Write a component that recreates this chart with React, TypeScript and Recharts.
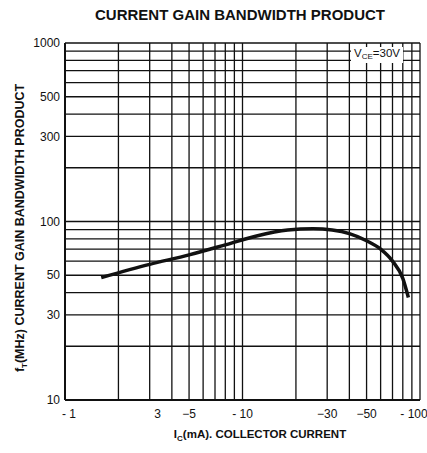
import React from "react";
import { LineChart, Line, XAxis, YAxis, CartesianGrid } from "recharts";

// collector current magnitude (mA) and fT (MHz)
const currentMa = [1.6, 3, 5, 8, 12, 18, 25, 32, 40, 50, 60, 70, 80, 86];
const ftMhz = [48.5, 57.5, 65, 74, 83, 89.5, 91, 89.5, 85.5, 78, 70, 60, 48, 37.5];

const xGridValues = [1, 2, 3, 4, 5, 6, 7, 8, 9, 10, 20, 30, 40, 50, 60, 70, 80, 90, 100];
const xTickLabels: Record<number, string> = {
  1: "- 1",
  3: "3",
  5: "\u22125",
  10: "- 10",
  30: "\u221230",
  50: "\u221250",
  100: "- 100",
};

const yGridValues = [10, 20, 30, 40, 50, 60, 70, 80, 90, 100, 200, 300, 400, 500, 600, 700, 800, 900, 1000];
const yTickLabels: Record<number, string> = {
  10: "10",
  30: "30",
  50: "50",
  100: "100",
  300: "300",
  500: "500",
  1000: "1000",
};

const data = currentMa.map((x, i) => ({ x, ft: ftMhz[i] }));

const font = "'Liberation Sans', Arial, Helvetica, sans-serif";
const ink = "#111";

const XTick = (props: any) => {
  const { x, y, payload } = props;
  const label = xTickLabels[payload.value];
  if (!label) return null;
  let dx = 0;
  if (payload.value === 3) dx = 8;
  if (payload.value === 100) dx = -6;
  if (payload.value === 1) dx = 4;
  return (
    <text x={x + dx} y={y} dy={10} textAnchor="middle" fill={ink} fontSize={12} fontFamily={font}>
      {label}
    </text>
  );
};

export default function App() {
  return (
    <div style={{ position: "absolute", left: 0, top: 0, width: 427, height: 453, background: "#fff", fontFamily: font, color: ink }}>
      <LineChart width={427} height={453} data={data} margin={{ top: 43, right: 7, left: 0, bottom: 0 }}>
        <CartesianGrid stroke={ink} strokeWidth={1.3} />
        <XAxis
          dataKey="x"
          type="number"
          scale="log"
          domain={[1, 100]}
          ticks={xGridValues}
          interval={0}
          height={53}
          axisLine={{ stroke: ink, strokeWidth: 2 }}
          tickLine={false}
          tick={<XTick />}
        />
        <YAxis
          type="number"
          scale="log"
          domain={[10, 1000]}
          ticks={yGridValues}
          interval={0}
          width={65}
          axisLine={{ stroke: ink, strokeWidth: 2 }}
          tickLine={false}
          tickSize={3}
          tickMargin={2}
          tickFormatter={(v: number) => yTickLabels[v] || ""}
          tick={{ fill: ink, fontSize: 12, fontFamily: font }}
        />
        <Line
          dataKey="ft"
          type="monotone"
          stroke={ink}
          strokeWidth={3.5}
          dot={false}
          isAnimationActive={false}
        />
      </LineChart>

      <div style={{ position: "absolute", left: 240, top: 14, transform: "translate(-50%, -50%)", fontSize: 15, fontWeight: "bold", whiteSpace: "nowrap" }}>
        CURRENT GAIN BANDWIDTH PRODUCT
      </div>

      <div style={{ position: "absolute", left: 22, top: 228, transform: "translate(-50%, -50%) rotate(-90deg)", fontSize: 12.5, fontWeight: "bold", whiteSpace: "nowrap", lineHeight: "14px" }}>
        f<span style={{ fontSize: 8, verticalAlign: -3 }}>T</span>(MHz) CURRENT GAIN BANDWIDTH PRODUCT
      </div>

      <div style={{ position: "absolute", left: 260, top: 436, transform: "translate(-50%, -50%)", fontSize: 11.5, fontWeight: "bold", whiteSpace: "nowrap", lineHeight: "14px" }}>
        I<span style={{ fontSize: 8, verticalAlign: -3 }}>C</span>(mA). COLLECTOR CURRENT
      </div>

      <div style={{ position: "absolute", left: 351, top: 47, background: "#fff", padding: "0 3px", fontSize: 11.5, whiteSpace: "nowrap", lineHeight: "12px" }}>
        V<span style={{ fontSize: 8, verticalAlign: -2 }}>CE</span>=30V
      </div>
    </div>
  );
}
